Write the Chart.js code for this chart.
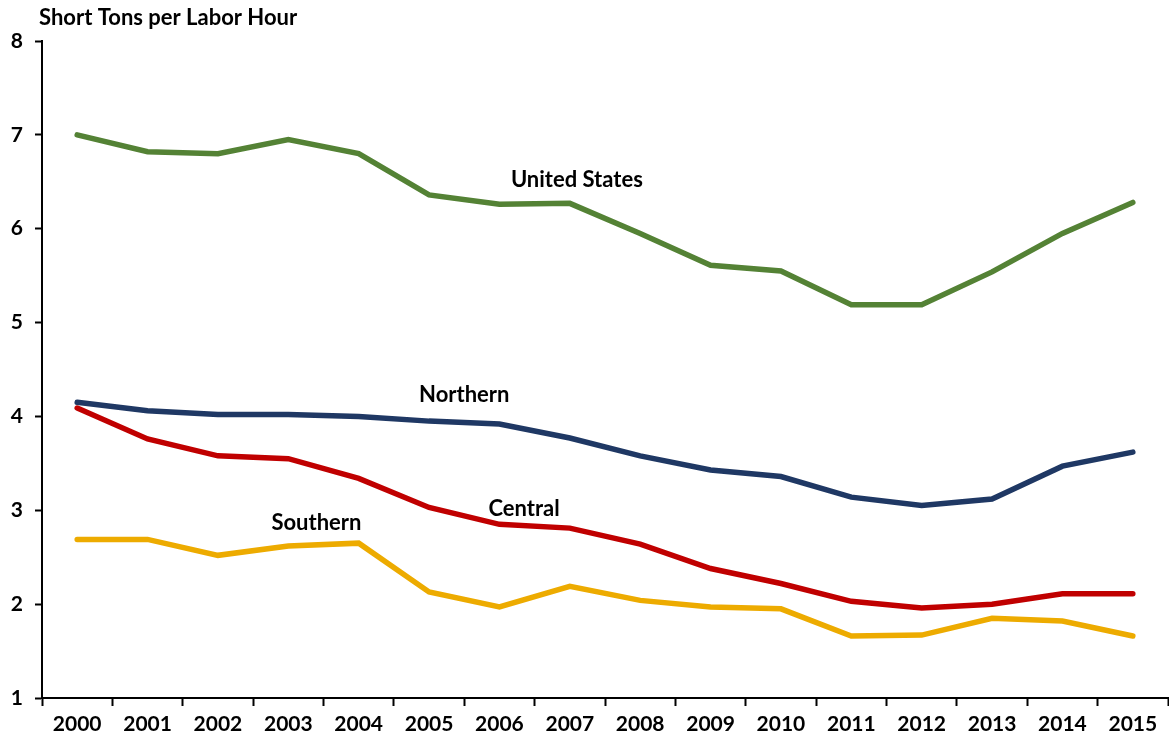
<!DOCTYPE html>
<html>
<head>
<meta charset="utf-8">
<script src="https://cdn.jsdelivr.net/npm/chart.js@4"></script>
<style>
  html, body { margin: 0; padding: 0; background: #fff; }
  #wrap { width: 1169px; height: 738px; }
</style>
</head>
<body>
<div id="wrap"><canvas id="chart" width="1169" height="738"></canvas></div>
<script>
// ---- data ----
const years = ['2000','2001','2002','2003','2004','2005','2006','2007',
               '2008','2009','2010','2011','2012','2013','2014','2015'];

const unitedStates = [7.00, 6.82, 6.80, 6.95, 6.80, 6.36, 6.26, 6.27, 5.95, 5.61, 5.55, 5.19, 5.19, 5.54, 5.95, 6.28];
const northern     = [4.15, 4.06, 4.02, 4.02, 4.00, 3.95, 3.92, 3.77, 3.58, 3.43, 3.36, 3.14, 3.05, 3.12, 3.47, 3.62];
const central      = [4.09, 3.76, 3.58, 3.55, 3.34, 3.03, 2.85, 2.81, 2.64, 2.38, 2.22, 2.03, 1.96, 2.00, 2.11, 2.11];
const southern     = [2.69, 2.69, 2.52, 2.62, 2.65, 2.13, 1.97, 2.19, 2.04, 1.97, 1.95, 1.66, 1.67, 1.85, 1.82, 1.66];

// series label anchors: [name, category index, value]
const seriesLabels = [
  ['United States', 7.1, 6.52],
  ['Northern',      5.5, 4.23],
  ['Central',       6.35, 3.02],
  ['Southern',      3.4, 2.87]
];

const yTitle = 'Short Tons per Labor Hour';
const FONT = 'Lato, "Liberation Sans", sans-serif';

// ---- text plugin: axis title + inline series labels ----
const textPlugin = {
  id: 'textPlugin',
  afterDraw(chart) {
    const ctx = chart.ctx;
    const xs = chart.scales.x, ys = chart.scales.y;
    ctx.save();
    ctx.fillStyle = '#000';
    ctx.font = 'bold 22px ' + FONT;
    ctx.textBaseline = 'middle';
    ctx.textAlign = 'left';
    ctx.fillText(yTitle, chart.chartArea.left - 3, 18);
    ctx.textAlign = 'center';
    seriesLabels.forEach(([name, idx, val]) => {
      const x = xs.getPixelForValue(0) + idx * (xs.getPixelForValue(1) - xs.getPixelForValue(0));
      ctx.fillText(name, x, ys.getPixelForValue(val));
    });
    ctx.restore();
  }
};

function line(label, data, color) {
  return {
    label, data,
    borderColor: color,
    backgroundColor: color,
    borderWidth: 5.5,
    pointRadius: 0,
    tension: 0,
    borderCapStyle: 'round',
    borderJoinStyle: 'miter',
    fill: false
  };
}

new Chart(document.getElementById('chart'), {
  type: 'line',
  data: {
    labels: years,
    datasets: [
      line('United States', unitedStates, '#548235'),
      line('Northern', northern, '#1F3864'),
      line('Central', central, '#C00000'),
      line('Southern', southern, '#EDAB00')
    ]
  },
  options: {
    responsive: false,
    animation: false,
    layout: { padding: { top: 41, right: 1, left: 0, bottom: 0 } },
    plugins: {
      legend: { display: false },
      tooltip: { enabled: false }
    },
    scales: {
      x: {
        type: 'category',
        offset: true,
        grid: {
          offset: true,
          drawOnChartArea: false,
          drawTicks: true,
          tickLength: 8,
          tickWidth: 2,
          tickColor: '#000'
        },
        border: { display: true, color: '#000', width: 2 },
        ticks: {
          color: '#000',
          font: { family: FONT, size: 21, weight: 'bold' },
          padding: 6,
          maxRotation: 0,
          autoSkip: false
        },
        afterFit(scale) { scale.height = 40; }
      },
      y: {
        min: 1,
        max: 8,
        grid: {
          drawOnChartArea: false,
          drawTicks: true,
          tickLength: 7,
          tickWidth: 2,
          tickColor: '#000'
        },
        border: { display: true, color: '#000', width: 2 },
        ticks: {
          stepSize: 1,
          color: '#000',
          font: { family: FONT, size: 21, weight: 'bold' },
          padding: 12
        },
        afterFit(scale) { scale.width = 42; }
      }
    }
  },
  plugins: [textPlugin]
});
</script>
</body>
</html>
